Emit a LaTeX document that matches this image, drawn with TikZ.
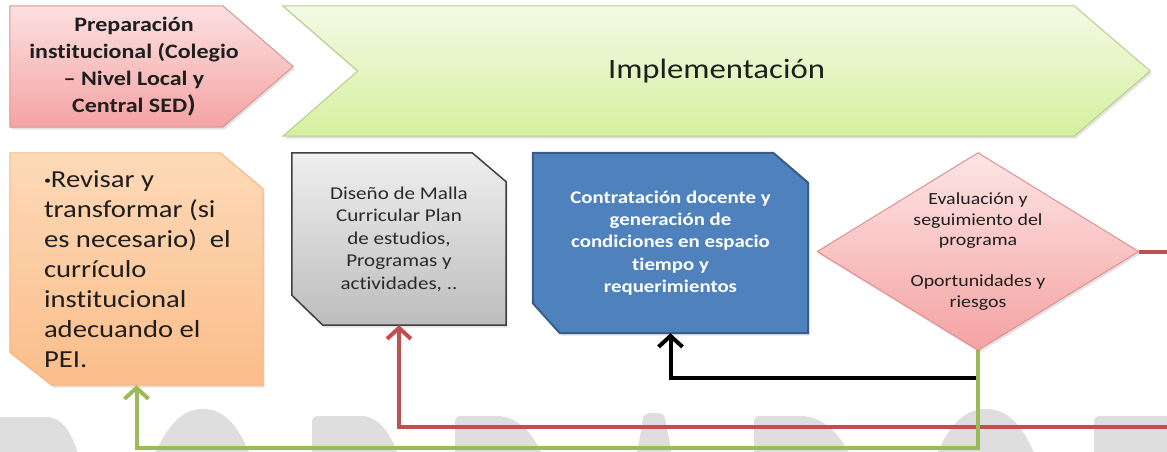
\documentclass[tikz,border=0pt]{standalone}
\usepackage{fontspec}
\setmainfont{Carlito}[FakeStretch=1.17, Ligatures=NoCommon]
\usetikzlibrary{calc,arrows.meta,shadows,backgrounds}
\definecolor{lnred}{HTML}{C0504D}
\definecolor{lngreen}{HTML}{9BBB59}
\definecolor{bluefill}{HTML}{4F81BD}
\definecolor{blueborder}{HTML}{385D8A}
\definecolor{wm}{HTML}{DEDEDE}
\definecolor{pinkT}{HTML}{FDE0E0}
\definecolor{pinkB}{HTML}{F4A3A3}
\definecolor{pinkD}{HTML}{D99694}
\definecolor{greenT}{HTML}{F4FAE6}
\definecolor{greenB}{HTML}{D5F09E}
\definecolor{greenD}{HTML}{B4D08C}
\definecolor{orangeT}{HTML}{FDDAB8}
\definecolor{orangeB}{HTML}{FBBD8A}
\definecolor{orangeD}{HTML}{F9B67C}
\definecolor{grayT}{HTML}{EFEFEF}
\definecolor{grayB}{HTML}{BDBDBD}
\definecolor{grayD}{HTML}{404040}
\definecolor{graytxt}{HTML}{2A2A2A}
\definecolor{diaT}{HTML}{FDE5E5}
\definecolor{diaB}{HTML}{F5A2A2}
\definecolor{diaD}{HTML}{E38F8D}
\definecolor{txtdark}{HTML}{1E1E1E}
\newcommand{\smallbullet}{\raisebox{0.28ex}{\fontsize{12}{12}\selectfont •}}
\begin{document}
\begin{tikzpicture}[x=1pt,y=-1pt,
  box/.style={draw=none, inner sep=0pt, align=center, text=txtdark},
  conn/.style={line width=4pt, -{Straight Barb[length=11pt,width=24pt]}},
  shadowed/.style={drop shadow={opacity=0.22, shadow xshift=1.5pt, shadow yshift=-2.5pt}},
  shapeline/.style={line width=1pt, line join=miter}]

\useasboundingbox (0,0) rectangle (1167,452);

% ---------- nodes ----------
\node[box, minimum width=248pt, minimum height=121pt,
      font=\bfseries\fontsize{20.5}{27}\selectfont] (prep) at (134,66.5)
  {Preparación\\institucional (Colegio\\– Nivel Local y\\Central SED{\fontsize{24}{27}\selectfont)}};

\node[box, minimum width=867pt, minimum height=130pt,
      font=\fontsize{28}{34}\selectfont] (impl) at (716.5,71) {Implementación};

\node[box, align=flush left, text width=185pt, inner xsep=34pt, minimum height=232pt,
      font=\fontsize{24.5}{30}\selectfont] (rev) at (136.5,269)
  {\mbox{\smallbullet Revisar y}\\\mbox{transformar (si}\\\mbox{es necesario)\ \ el}\\\mbox{currículo}\\\mbox{institucional}\\\mbox{adecuando el}\\\mbox{PEI.}};

\node[box, minimum width=214pt, minimum height=172pt, text=graytxt,
      font=\fontsize{18}{22.5}\selectfont] (dis) at (399,239)
  {Diseño de Malla\\Curricular Plan\\de estudios,\\Programas y\\actividades, ..};

\node[box, minimum width=275pt, minimum height=180pt, text=white,
      font=\bfseries\fontsize{17.8}{22.3}\selectfont] (con) at (670.5,243)
  {Contratación docente y\\generación de\\condiciones en espacio\\tiempo y\\requerimientos};

\node[box, minimum width=321pt, minimum height=197pt,
      font=\fontsize{17}{20.6}\selectfont] (eva) at (978,251.5)
  {Evaluación y\\seguimiento del\\programa\\[20.6pt]Oportunidades y\\riesgos};

% ---------- backgrounds ----------
\begin{scope}[on background layer]
  \fill[white] (0,0) rectangle (1167,452);
  % watermark (tops of large grey letters)
  \begin{scope}[fill=wm]
    \fill (-10,460) -- (-10,417) -- (46,417) .. controls (62,417) and (72,432) .. (80,460) -- cycle;
    \fill (152,460) .. controls (168,422) and (184,409) .. (203,409) .. controls (222,409) and (238,422) .. (252,460) -- cycle;
    \fill (312,460) -- (312,422) .. controls (312,418) and (314,416) .. (318,416) -- (360,416) .. controls (378,416) and (391,432) .. (400,460) -- cycle;
    \fill (455,460) -- (455,422) .. controls (455,418) and (457,416) .. (461,416) -- (497,416) .. controls (517,416) and (533,432) .. (545,460) -- cycle;
    \fill (636,460) -- (643,418) .. controls (644,414) and (647,413) .. (654,413) .. controls (661,413) and (664,414) .. (665,418) -- (673,460) -- cycle;
    \fill (754,460) -- (754,422) .. controls (754,418) and (756,416) .. (760,416) -- (800,416) .. controls (822,416) and (840,432) .. (852,460) -- cycle;
    \fill (934,460) .. controls (950,422) and (966,409) .. (986,409) .. controls (1006,409) and (1022,422) .. (1037,460) -- cycle;
    \fill (1094,460) -- (1094,422) .. controls (1094,418) and (1096,416) .. (1100,416) -- (1180,416) -- (1180,460) -- cycle;
  \end{scope}

  % pink pentagon
  \path[shadowed, shapeline, top color=pinkT, bottom color=pinkB, draw=pinkD]
    (prep.north west) -- ($(prep.north west)+(213,0)$) -- ($(prep.east)+(35,0)$)
    -- ($(prep.south west)+(213,0)$) -- (prep.south west) -- cycle;
  % green chevron
  \path[shadowed, shapeline, top color=greenT, bottom color=greenB, draw=greenD]
    (impl.north west) -- ($(impl.north east)+(-76,0)$) -- (impl.east)
    -- ($(impl.south east)+(-76,0)$) -- (impl.south west) -- ($(impl.west)+(75,0)$) -- cycle;
  % orange snipped box
  \path[shadowed, shapeline, top color=orangeT, bottom color=orangeB, draw=orangeD]
    (rev.north west) -- ($(rev.north east)+(-43,0)$) -- ($(rev.north east)+(0,36)$)
    -- (rev.south east) -- ($(rev.south west)+(42,0)$) -- ($(rev.south west)+(0,-33)$) -- cycle;
  % gray snipped box
  \path[shadowed, line width=1.5pt, top color=grayT, bottom color=grayB, draw=grayD]
    (dis.north west) -- ($(dis.north east)+(-34,0)$) -- ($(dis.north east)+(0,29)$)
    -- (dis.south east) -- ($(dis.south west)+(31,0)$) -- ($(dis.south west)+(0,-30)$) -- cycle;
  % blue snipped box
  \path[shadowed, line width=2pt, fill=bluefill, draw=blueborder]
    (con.north west) -- ($(con.north east)+(-35,0)$) -- ($(con.north east)+(0,30)$)
    -- (con.south east) -- ($(con.south west)+(27,0)$) -- ($(con.south west)+(0,-30)$) -- cycle;
  % pink diamond
  \path[shadowed, shapeline, top color=diaT, bottom color=diaB, draw=diaD]
    (eva.north) -- (eva.east) -- (eva.south) -- (eva.west) -- cycle;
\end{scope}

% ---------- connectors ----------
\coordinate (rc) at (1185,427);
\coordinate (lowg) at (0,448);
\coordinate (lowb) at (0,378);
\coordinate (gc) at (eva.south |- lowg);
\coordinate (bk) at ($(eva.south |- lowb)+(-2,0)$);

\draw[conn, lnred] (eva.east) -| (rc) -| (dis.south);
\draw[conn, lngreen] (eva.south) -- (gc) -| (rev.south);
\draw[conn, black] (bk) -| (con.south);
\end{tikzpicture}
\end{document}
